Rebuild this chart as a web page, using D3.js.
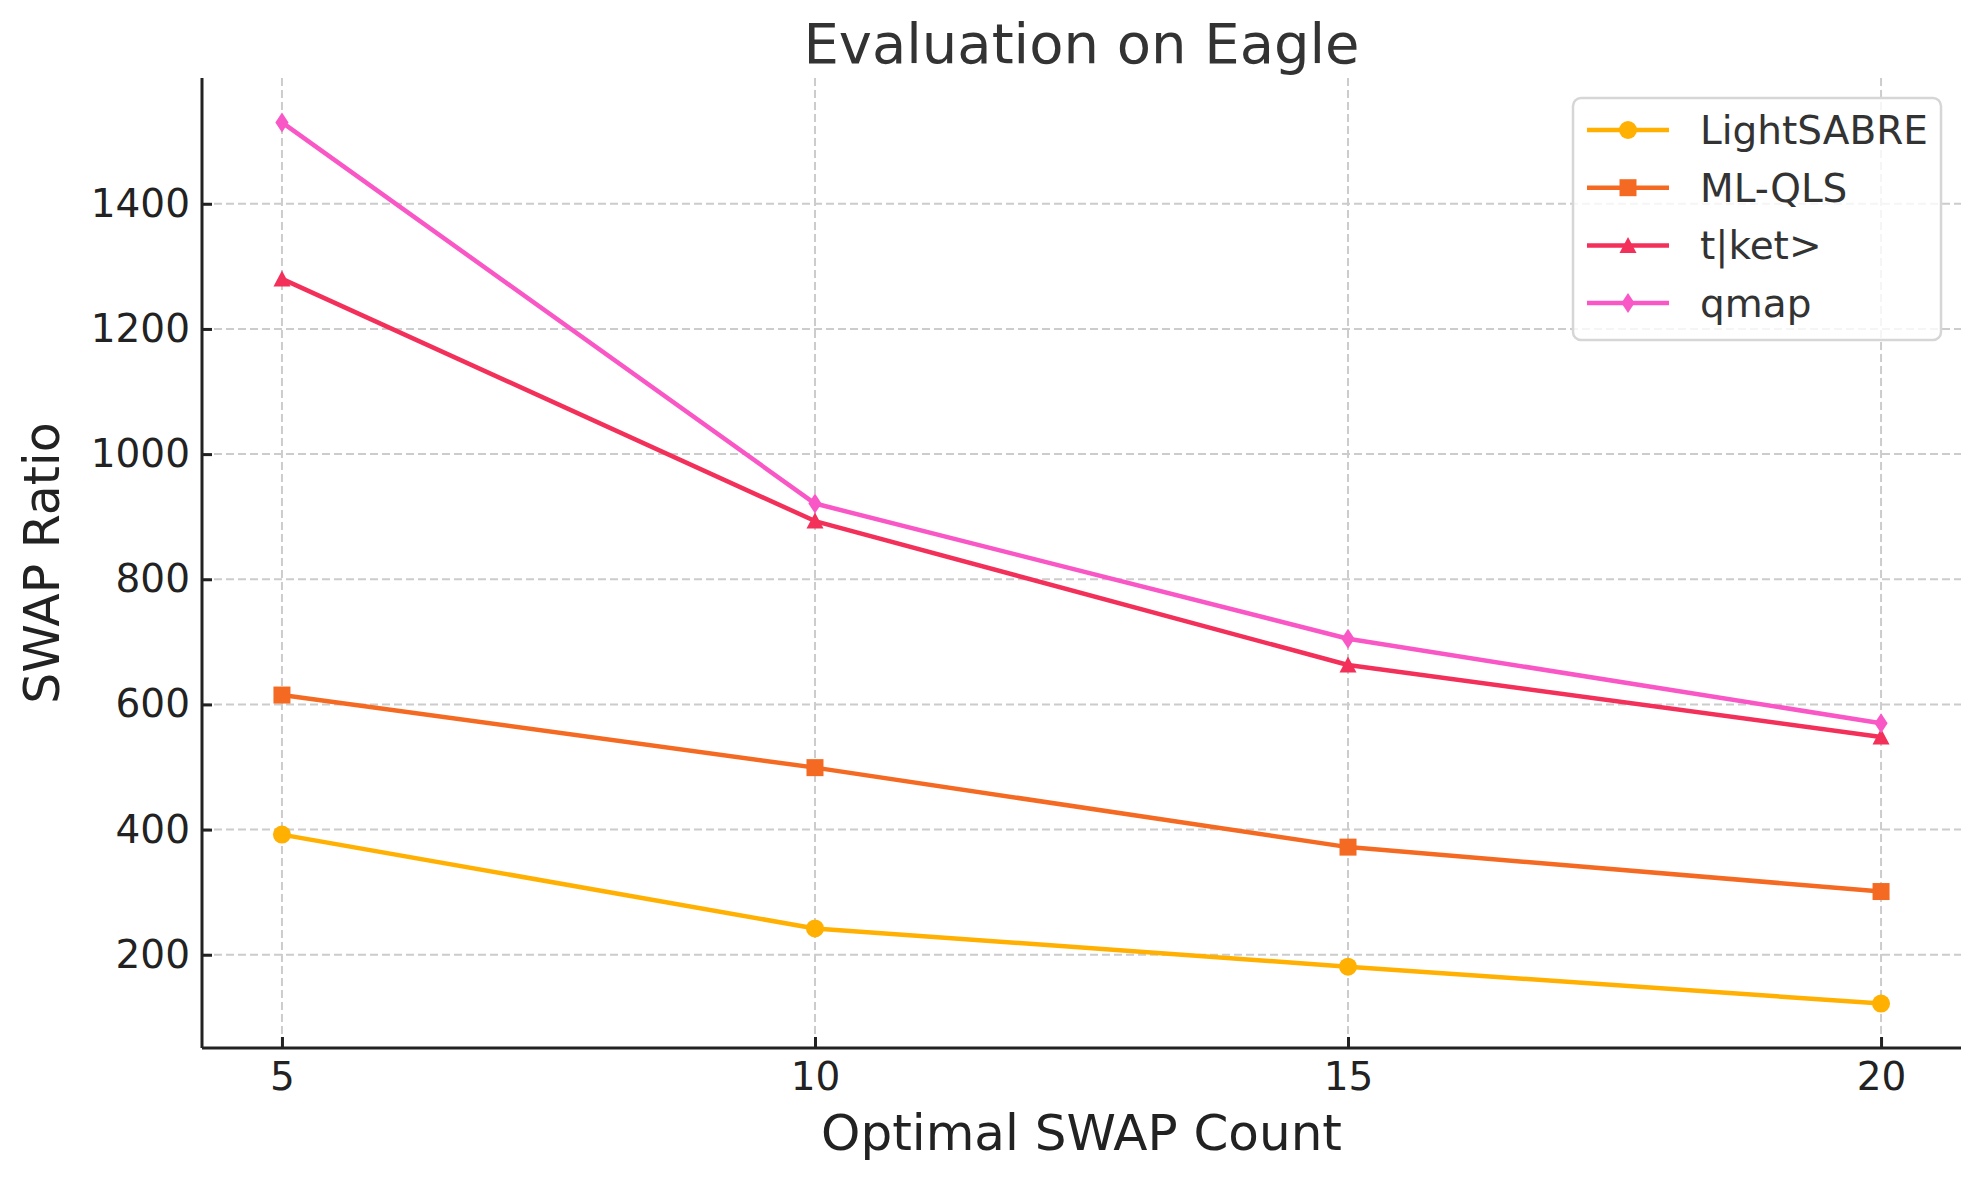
<!DOCTYPE html>
<html>
<head>
<meta charset="utf-8">
<script src="https://cdn.jsdelivr.net/npm/d3@7"></script>
<style>
  body { margin: 0; background: #fff; }
  svg { display: block; font-family: "DejaVu Sans", sans-serif; }
</style>
</head>
<body>
<svg width="1979" height="1180"></svg>
<script>
// data
const xValues = [5, 10, 15, 20];
const lightSabre = [392, 242, 181, 122];
const mlQls = [615, 499, 372, 301];
const tket = [1280, 893, 663, 548];
const qmap = [1530, 921, 705, 570];
const seriesNames = ["LightSABRE", "ML-QLS", "t|ket>", "qmap"];
const yTicks = [200, 400, 600, 800, 1000, 1200, 1400];

const series = [
    { name: seriesNames[0], values: lightSabre, color: "#FFB000", marker: "circle" },
    { name: seriesNames[1], values: mlQls, color: "#F46A22", marker: "square" },
    { name: seriesNames[2], values: tket, color: "#F2305A", marker: "triangle" },
    { name: seriesNames[3], values: qmap, color: "#F957C6", marker: "diamond" }
];

const svg = d3.select("svg"),
    margin = { top: 78, right: 18, bottom: 132, left: 202 },
    width = +svg.attr("width") - margin.left - margin.right,
    height = +svg.attr("height") - margin.top - margin.bottom;

const g = svg.append("g").attr("transform", `translate(${margin.left},${margin.top})`);

const x = d3.scaleLinear().domain([4.25, 20.75]).range([0, width]);
const y = d3.scaleLinear().domain([51, 1601]).range([height, 0]);

// grid
g.append("g").selectAll("line").data(yTicks).join("line")
    .attr("x1", 0).attr("x2", width)
    .attr("y1", d => y(d)).attr("y2", d => y(d))
    .attr("stroke", "#cccccc").attr("stroke-width", 2).attr("stroke-dasharray", "8,4");
g.append("g").selectAll("line").data(xValues).join("line")
    .attr("y1", 0).attr("y2", height)
    .attr("x1", d => x(d)).attr("x2", d => x(d))
    .attr("stroke", "#cccccc").attr("stroke-width", 2).attr("stroke-dasharray", "8,4");

// axes, ticks point inward
const xAxis = g.append("g")
    .attr("transform", `translate(0,${height})`)
    .call(d3.axisBottom(x).tickValues(xValues).tickFormat(d3.format("d"))
        .tickSize(-11).tickPadding(14).tickSizeOuter(0));
const yAxis = g.append("g")
    .call(d3.axisLeft(y).tickValues(yTicks).tickFormat(d3.format("d"))
        .tickSize(-10).tickPadding(12).tickSizeOuter(0));

[xAxis, yAxis].forEach(a => {
    a.select(".domain").attr("stroke", "#222").attr("stroke-width", 3);
    a.selectAll(".tick line").attr("stroke", "#222").attr("stroke-width", 3);
    a.selectAll(".tick text").attr("fill", "#222").style("font-size", "39px")
        .style("font-family", "DejaVu Sans");
});
xAxis.select(".domain").attr("d", `M0,0H${width}`);
yAxis.select(".domain").attr("d", `M0,0V${height}`);

const symbolFor = {
    circle: d3.symbol().type(d3.symbolCircle).size(Math.PI * 9 * 9),
    square: d3.symbol().type(d3.symbolSquare).size(17 * 17)
};

function drawMarker(sel, kind, color) {
    if (kind === "diamond") {
        sel.append("path").attr("d", "M0,-10L6.6,0L0,10L-6.6,0Z").attr("fill", color);
    } else if (kind === "triangle") {
        sel.append("path").attr("d", "M0,-8.5L8.5,7.5L-8.5,7.5Z").attr("fill", color);
    } else {
        sel.append("path").attr("d", symbolFor[kind]()).attr("fill", color);
    }
}

const line = d3.line().x((d, i) => x(xValues[i])).y(d => y(d));

series.forEach(s => {
    g.append("path")
        .datum(s.values)
        .attr("fill", "none")
        .attr("stroke", s.color)
        .attr("stroke-width", 4.5)
        .attr("stroke-linejoin", "round")
        .attr("d", line);
    s.values.forEach((v, i) => {
        const m = g.append("g").attr("transform", `translate(${x(xValues[i])},${y(v)})`);
        drawMarker(m, s.marker, s.color);
    });
});

// title and axis labels
svg.append("text")
    .attr("x", margin.left + width / 2).attr("y", 63)
    .attr("text-anchor", "middle").attr("fill", "#333")
    .style("font-size", "56px").text("Evaluation on Eagle");
svg.append("text")
    .attr("x", margin.left + width / 2).attr("y", 1150)
    .attr("text-anchor", "middle").attr("fill", "#222")
    .style("font-size", "50px").text("Optimal SWAP Count");
svg.append("text")
    .attr("transform", `translate(59,${margin.top + height / 2}) rotate(-90)`)
    .attr("text-anchor", "middle").attr("fill", "#222")
    .style("font-size", "49px").text("SWAP Ratio");

// legend
const legend = svg.append("g");
legend.append("rect")
    .attr("x", 1573).attr("y", 98).attr("width", 368).attr("height", 242)
    .attr("rx", 8).attr("fill", "rgba(255,255,255,0.8)")
    .attr("stroke", "#d6d6d6").attr("stroke-width", 2.5);
series.forEach((s, i) => {
    const ly = 130 + i * 57.7;
    const row = legend.append("g");
    row.append("line").attr("x1", 1587).attr("x2", 1669).attr("y1", ly).attr("y2", ly)
        .attr("stroke", s.color).attr("stroke-width", 4.5);
    const m = row.append("g").attr("transform", `translate(1628,${ly})`);
    drawMarker(m, s.marker, s.color);
    row.append("text").attr("x", 1700).attr("y", ly + 14)
        .attr("fill", "#333").style("font-size", "39px").text(s.name);
});
</script>
</body>
</html>
